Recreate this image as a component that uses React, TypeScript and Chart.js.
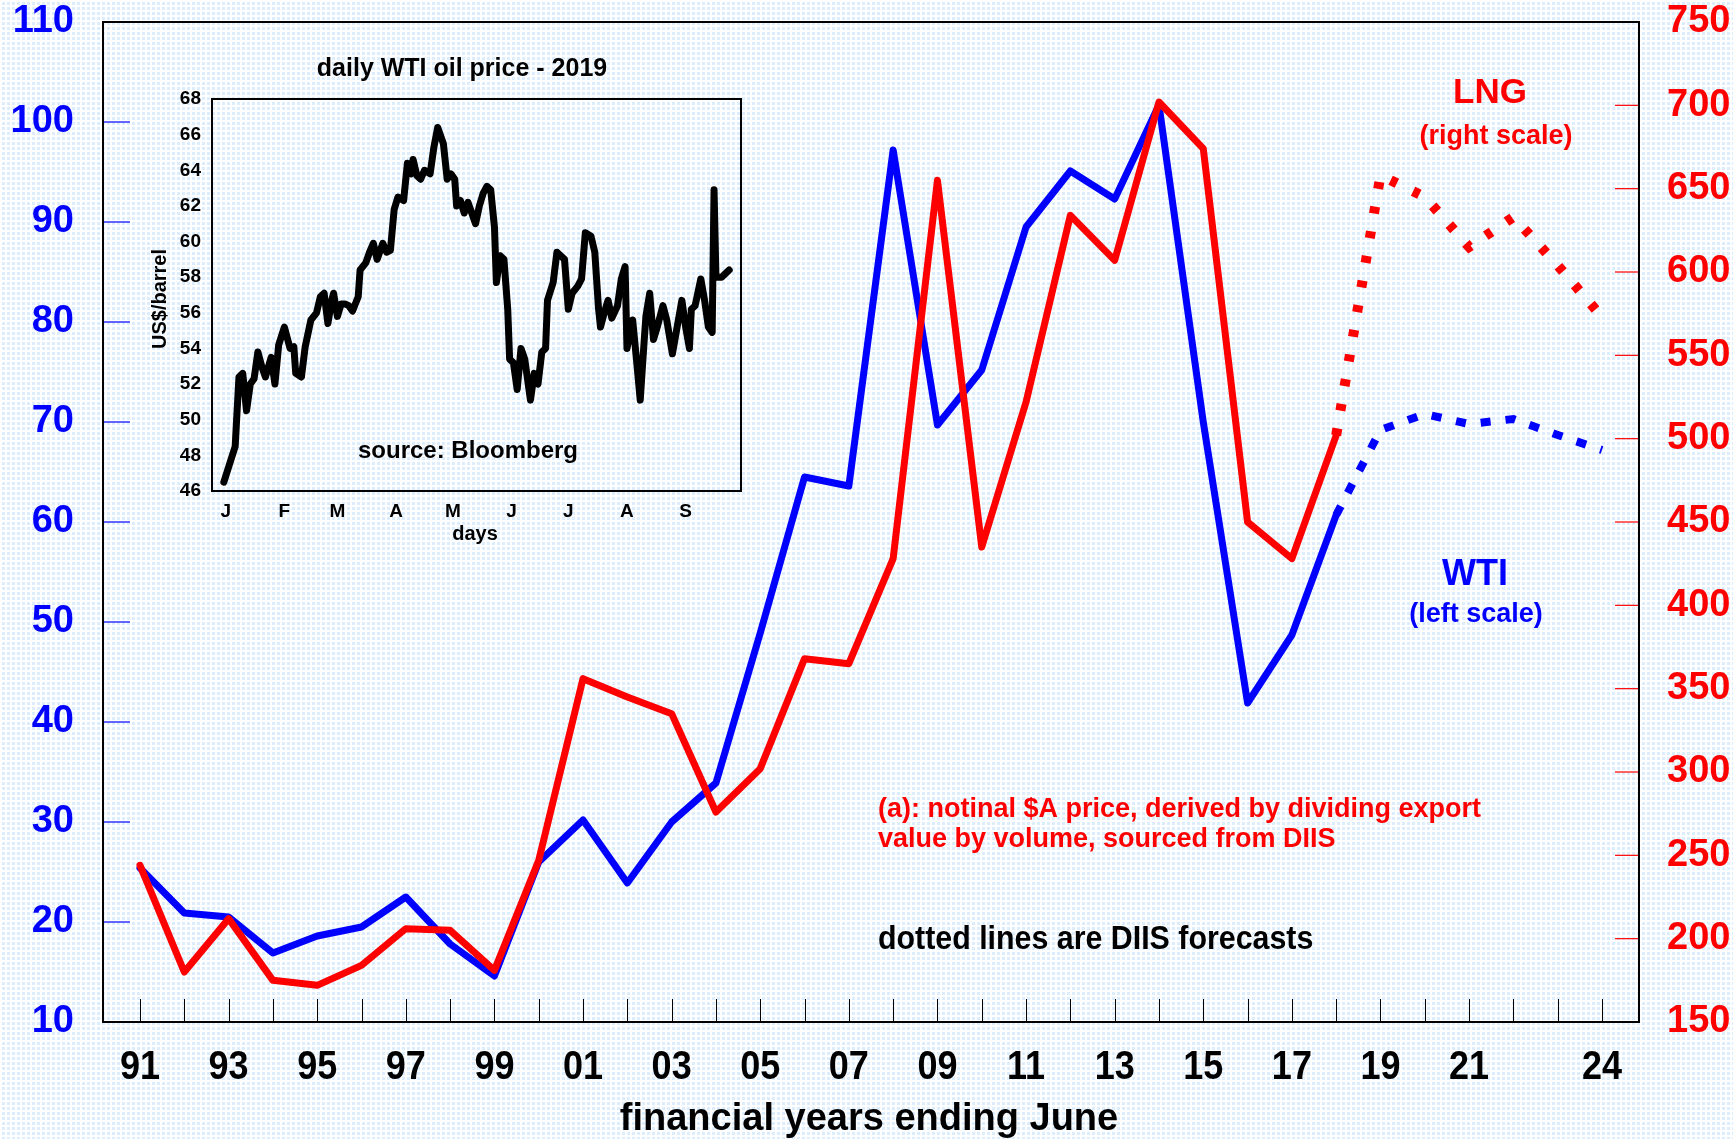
import React, { useEffect, useRef } from 'react';
import { Chart, registerables } from 'chart.js';

Chart.register(...registerables);

const FONT = '"Liberation Sans", Arial, Helvetica, sans-serif';
const RED = '#ff0000';
const BLUE = '#0000ff';

// ---------- main chart data ----------
const years = [1991, 1992, 1993, 1994, 1995, 1996, 1997, 1998, 1999, 2000, 2001, 2002, 2003, 2004,
  2005, 2006, 2007, 2008, 2009, 2010, 2011, 2012, 2013, 2014, 2015, 2016, 2017, 2018];
const wtiActual = [25.4, 20.9, 20.5, 16.9, 18.6, 19.5, 22.5, 17.8, 14.6, 26.0, 30.2, 23.9, 30.0, 33.9,
  48.9, 64.5, 63.6, 97.2, 69.7, 75.2, 89.5, 95.1, 92.3, 101.7, 70.0, 41.9, 48.7, 60.7];
const lngActual = [244, 180, 212, 175, 172, 184, 206, 205, 181, 247, 356, 345, 335, 276,
  302, 368, 365, 428, 655, 435, 522, 634, 607, 702, 674, 450, 428, 502];
const forecastYears = [2018, 2019, 2020, 2021, 2022, 2023, 2024];
const wtiForecast = [60.7, 69.2, 70.8, 69.8, 70.3, 68.7, 67.2];
const lngForecast = [502, 658, 645, 615, 633, 604, 573];

const xTickYears = [1991, 1993, 1995, 1997, 1999, 2001, 2003, 2005, 2007, 2009, 2011, 2013, 2015, 2017, 2019, 2021, 2024];
const xTickLabels = ['91', '93', '95', '97', '99', '01', '03', '05', '07', '09', '11', '13', '15', '17', '19', '21', '24'];
const leftTickValues = [10, 20, 30, 40, 50, 60, 70, 80, 90, 100, 110];
const rightTickValues = [150, 200, 250, 300, 350, 400, 450, 500, 550, 600, 650, 700, 750];

// ---------- inset data (daily WTI 2019) ----------
const insetDays = [1, 7, 9, 11, 13, 15, 17, 19, 21, 23, 26, 28, 30, 33, 36, 38, 39, 42, 44, 47, 50, 52, 54, 56, 58, 59,
  61, 63, 65, 67, 69, 72, 73, 76, 78, 80, 82, 85, 87, 89, 91, 93, 96, 98, 100, 101, 103, 105, 107, 110, 112, 114,
  117, 119, 121, 123, 124, 126, 128, 130, 132, 134, 136, 138, 140, 142, 144, 145, 147, 149, 151, 152, 154, 156,
  158, 160, 163, 165, 167, 169, 171, 172, 175, 177, 179, 181, 183, 185, 188, 190, 192, 195, 197, 199, 200, 202,
  204, 206, 209, 211, 213, 214, 217, 219, 221, 223, 224, 226, 228, 230, 233, 235, 238, 240, 243, 245, 247, 248,
  250, 253, 255, 257, 259, 260, 261, 264, 266, 268];
const insetPrices = [46.5, 48.5, 52.4, 52.6, 50.5, 52.0, 52.3, 53.8, 53.0, 52.4, 53.5, 52.0, 54.2, 55.2, 54.0, 54.1,
  52.6, 52.4, 54.1, 55.6, 56.0, 56.9, 57.1, 55.4, 56.7, 57.1, 55.8, 56.5, 56.5, 56.4, 56.1, 56.9, 58.4, 58.8, 59.4,
  59.9, 59.0, 59.9, 59.4, 59.5, 61.8, 62.5, 62.3, 64.4, 63.8, 64.6, 63.7, 63.5, 64.0, 63.8, 65.3, 66.4, 65.5, 63.5,
  63.8, 63.5, 62.0, 62.3, 61.6, 62.2, 61.6, 61.0, 62.0, 62.7, 63.1, 62.9, 60.8, 57.7, 59.2, 59.0, 56.2, 53.4, 53.2,
  51.7, 54.0, 53.4, 51.1, 52.6, 52.0, 53.8, 54.0, 56.7, 57.7, 59.4, 59.2, 59.0, 56.2, 57.1, 57.5, 57.9, 60.5, 60.3,
  59.4, 56.2, 55.2, 56.0, 56.7, 55.7, 56.4, 57.9, 58.6, 54.0, 55.6, 53.4, 51.1, 54.3, 55.8, 57.1, 54.5, 55.2, 56.4,
  55.6, 53.7, 54.9, 56.7, 55.2, 54.0, 56.2, 56.4, 57.9, 56.7, 55.2, 54.9, 62.9, 58.0, 58.0, 58.2, 58.4];
const insetMonthDays = [2, 33, 61, 92, 122, 153, 183, 214, 245];
const insetMonthLabels = ['J', 'F', 'M', 'A', 'M', 'J', 'J', 'A', 'S'];

const toXY = (xs: number[], ys: number[]) => xs.map((x, i) => ({ x, y: ys[i] }));

function txt(ctx: any, s: string, x: number, y: number, size: number, color: string,
  align: string = 'center', sx: number = 1) {
  ctx.save();
  ctx.font = `bold ${size}px ${FONT}`;
  ctx.fillStyle = color;
  ctx.textAlign = align;
  ctx.textBaseline = 'alphabetic';
  ctx.translate(x, y);
  ctx.scale(sx, 1);
  ctx.fillText(s, 0, 0);
  ctx.restore();
}

function line(ctx: any, x1: number, y1: number, x2: number, y2: number) {
  ctx.beginPath();
  ctx.moveTo(x1, y1);
  ctx.lineTo(x2, y2);
  ctx.stroke();
}

// fix a scale's size and drop the extra label padding Chart.js would add to the layout
const fixSize = (w: number | null, h: number | null) => (s: any) => {
  if (w !== null) s.width = w;
  if (h !== null) s.height = h;
  s.paddingTop = 0;
  s.paddingBottom = 0;
  s.paddingLeft = 0;
  s.paddingRight = 0;
};

const mainDecor = {
  id: 'mainDecor',
  beforeDatasetsDraw(chart: any) {
    const { ctx, chartArea: a, scales } = chart;
    ctx.save();
    ctx.lineWidth = 1.2;
    ctx.strokeStyle = BLUE;
    leftTickValues.forEach((v) => {
      const y = scales.y.getPixelForValue(v);
      line(ctx, a.left, y, a.left + 27, y);
    });
    ctx.strokeStyle = RED;
    rightTickValues.forEach((v) => {
      const y = scales.y1.getPixelForValue(v);
      line(ctx, a.right - 24, y, a.right, y);
    });
    ctx.strokeStyle = '#000';
    ctx.lineWidth = 1;
    for (let yr = years[0]; yr <= forecastYears[forecastYears.length - 1]; yr++) {
      const x = Math.round(scales.x.getPixelForValue(yr)) + 0.5;
      line(ctx, x, a.bottom, x, a.bottom - 23);
    }
    ctx.lineWidth = 2;
    ctx.strokeRect(a.left, a.top, a.right - a.left, a.bottom - a.top);
    ctx.restore();
  },
  afterDraw(chart: any) {
    const { ctx, chartArea: a, scales } = chart;
    xTickYears.forEach((yr, i) => {
      txt(ctx, xTickLabels[i], scales.x.getPixelForValue(yr), 1079, 40, '#000', 'center', 0.9);
    });
    txt(ctx, 'financial years ending June', (a.left + a.right) / 2 - 2, 1130, 38, '#000');
    txt(ctx, 'LNG', 1490, 103, 35, RED);
    txt(ctx, '(right scale)', 1496, 144, 27, RED);
    txt(ctx, 'WTI', 1475, 585, 36, BLUE);
    txt(ctx, '(left scale)', 1476, 622, 27, BLUE);
    txt(ctx, '(a): notinal $A price, derived by dividing export', 878, 817, 27, RED, 'left');
    txt(ctx, 'value by volume, sourced from DIIS', 878, 847, 27, RED, 'left');
    txt(ctx, 'dotted lines are DIIS forecasts', 878, 949, 33, '#000', 'left', 0.92);
  },
};

const insetDecor = {
  id: 'insetDecor',
  beforeDatasetsDraw(chart: any) {
    const { ctx, chartArea: a } = chart;
    ctx.save();
    ctx.strokeStyle = '#000';
    ctx.lineWidth = 2;
    ctx.strokeRect(a.left, a.top, a.right - a.left, a.bottom - a.top);
    ctx.restore();
  },
  afterDraw(chart: any) {
    const { ctx } = chart;
    txt(ctx, 'daily WTI oil price - 2019', 332, 46, 25, '#000');
    txt(ctx, 'source: Bloomberg', 338, 428, 24, '#000');
    txt(ctx, 'days', 345, 510, 20, '#000');
    ctx.save();
    ctx.translate(36, 269);
    ctx.rotate(-Math.PI / 2);
    txt(ctx, 'US$/barrel', 0, 0, 20, '#000');
    ctx.restore();
  },
};

const tickFont = (size: number) => ({ family: FONT, size, weight: 'bold' as const, lineHeight: 1 });

export default function App() {
  const mainRef = useRef<HTMLCanvasElement>(null);
  const insetRef = useRef<HTMLCanvasElement>(null);

  useEffect(() => {
    Chart.defaults.font.family = FONT;
    const main = new Chart(mainRef.current as HTMLCanvasElement, {
      type: 'line',
      data: {
        datasets: [
          {
            label: 'LNG', data: toXY(years, lngActual), yAxisID: 'y1', borderColor: RED, borderWidth: 7,
            pointRadius: 0, borderJoinStyle: 'round', borderCapStyle: 'round', tension: 0, fill: false, order: 0,
          },
          {
            label: 'LNG forecast', data: toXY(forecastYears, lngForecast), yAxisID: 'y1', borderColor: RED,
            borderWidth: 10, borderDash: [7, 18], borderCapStyle: 'butt', pointRadius: 0, tension: 0, fill: false, order: 1,
          },
          {
            label: 'WTI', data: toXY(years, wtiActual), yAxisID: 'y', borderColor: BLUE, borderWidth: 7,
            pointRadius: 0, borderJoinStyle: 'round', borderCapStyle: 'round', tension: 0, fill: false, order: 2,
          },
          {
            label: 'WTI forecast', data: toXY(forecastYears, wtiForecast), yAxisID: 'y', borderColor: BLUE,
            borderWidth: 8, borderDash: [10, 15], borderCapStyle: 'butt', pointRadius: 0, tension: 0, fill: false, order: 3,
          },
        ],
      } as any,
      options: {
        responsive: false,
        animation: false,
        events: [],
        layout: { padding: { top: 22, left: 0, right: 0, bottom: 0 } },
        plugins: { legend: { display: false }, tooltip: { enabled: false }, title: { display: false } },
        scales: {
          x: {
            type: 'linear', position: 'bottom', min: 1990.165, max: 2024.835,
            grid: { display: false, drawTicks: false }, border: { display: false },
            ticks: { display: false },
            afterFit: fixSize(null, 117),
          },
          y: {
            type: 'linear', position: 'left', min: 10, max: 110,
            grid: { display: false, drawTicks: false }, border: { display: false },
            ticks: { stepSize: 10, color: BLUE, font: tickFont(38), padding: 29, autoSkip: false },
            afterFit: fixSize(103, null),
          },
          y1: {
            type: 'linear', position: 'right', min: 150, max: 750,
            grid: { display: false, drawTicks: false }, border: { display: false },
            ticks: { stepSize: 50, color: RED, font: tickFont(38), padding: 28, autoSkip: false },
            afterFit: fixSize(94, null),
          },
        },
      } as any,
      plugins: [mainDecor],
    });

    const inset = new Chart(insetRef.current as HTMLCanvasElement, {
      type: 'line',
      data: {
        datasets: [{
          label: 'daily WTI', data: toXY(insetDays, insetPrices), borderColor: '#000', borderWidth: 7,
          pointRadius: 0, borderJoinStyle: 'round', borderCapStyle: 'round', tension: 0, fill: false,
        }],
      } as any,
      options: {
        responsive: false,
        animation: false,
        events: [],
        layout: { padding: { top: 69, right: 29, left: 0, bottom: 0 } },
        plugins: { legend: { display: false }, tooltip: { enabled: false }, title: { display: false } },
        scales: {
          x: {
            type: 'linear', min: -5.24, max: 274.24,
            afterBuildTicks: (s: any) => { s.ticks = insetMonthDays.map((v) => ({ value: v })); },
            grid: { display: false, drawTicks: false }, border: { display: false },
            ticks: {
              callback: (_v: any, i: number) => insetMonthLabels[i], color: '#000', font: tickFont(19),
              padding: 11, maxRotation: 0, autoSkip: false,
            },
            afterFit: fixSize(null, 69),
          },
          y: {
            type: 'linear', min: 46, max: 68,
            grid: { display: false, drawTicks: false }, border: { display: false },
            ticks: { stepSize: 2, color: '#000', font: tickFont(19), padding: 11, autoSkip: false },
            afterFit: fixSize(82, null),
          },
        },
      } as any,
      plugins: [insetDecor],
    });

    return () => { main.destroy(); inset.destroy(); };
  }, []);

  return (
    <div
      style={{
        position: 'fixed', left: 0, top: 0, width: 1733, height: 1139, overflow: 'hidden',
        backgroundColor: '#ffffff',
        backgroundImage: 'linear-gradient(to right, #ffffff 2px, transparent 2px), linear-gradient(to bottom, #ffffff 2px, #dcedfd 2px)',
        backgroundSize: '5px 5px',
      }}
    >
      <canvas ref={mainRef} width={1733} height={1139}
        style={{ position: 'absolute', left: 0, top: 0, width: 1733, height: 1139 }} />
      <canvas ref={insetRef} width={640} height={530}
        style={{ position: 'absolute', left: 130, top: 30, width: 640, height: 530 }} />
    </div>
  );
}
